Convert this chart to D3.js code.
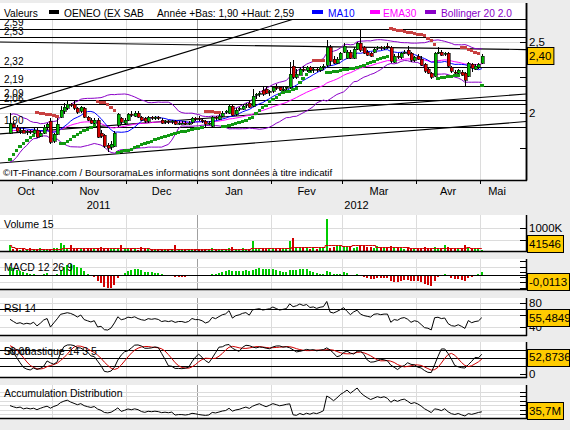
<!DOCTYPE html>
<html><head><meta charset="utf-8">
<script src="https://cdn.jsdelivr.net/npm/d3@7"></script>
<style>
html,body{margin:0;padding:0;background:#ececec;}
svg{display:block;font-family:"Liberation Sans",Arial,sans-serif;}
</style></head><body>
<svg id="c" width="570" height="430"></svg>
<script>
// ---------------- DATA ----------------
const preClose = [2.02,1.98,1.95,1.97,1.93,1.90,1.86,1.88,1.83,1.79,1.75,1.72,1.68,1.66,1.70,1.74,1.73,1.78,1.82,1.80,1.85,1.88,1.86,1.90,1.88,1.91,1.89,1.87,1.90,1.88];
const open  = [1.86,1.92,1.90,1.87,1.88,1.86,1.87,1.86,1.88,1.84,1.86,1.90,1.94,
 1.80,1.85,1.97,2.01,2.03,2.06,2.06,2.03,2.01,2.03,1.97,1.95,1.93,1.95,1.86,1.84,1.77,1.76,1.77,1.91,1.96,1.93,
 1.95,1.99,1.98,2.00,1.97,1.96,1.94,1.97,1.96,1.97,1.95,1.93,1.94,1.93,1.94,1.92,1.93,1.93,1.92,1.93,1.96,
 1.96,1.95,1.94,1.92,1.91,1.97,1.96,1.98,2.00,2.00,2.05,1.99,2.02,2.03,2.05,2.07,2.05,2.12,2.13,2.16,2.17,2.14,
 2.15,2.18,2.18,2.16,2.17,2.18,2.33,2.25,2.27,2.31,2.30,2.32,2.30,2.31,2.30,2.32,2.33,2.46,2.38,2.35,2.38,
 2.43,2.39,2.43,2.39,2.45,2.49,2.46,2.43,2.42,2.43,2.45,2.46,2.45,2.47,2.46,2.36,2.40,2.39,2.42,2.44,2.42,2.37,
 2.40,2.38,2.34,2.31,2.28,2.26,2.42,2.43,2.41,2.42,2.32,2.29,2.28,2.29,2.28,2.26,2.34,2.31,2.32,2.35];
const high  = [2.00,1.94,1.91,1.89,1.90,1.88,1.88,1.89,1.89,1.87,1.91,1.93,1.96,
 1.86,1.96,2.05,2.07,2.08,2.07,2.08,2.04,2.05,2.04,1.98,1.96,1.96,1.96,1.88,1.85,1.79,1.80,1.87,2.00,1.97,1.96,
 2.00,2.01,2.01,2.01,1.98,1.97,1.98,1.98,1.98,1.98,1.96,1.95,1.95,1.95,1.95,1.94,1.94,1.94,1.94,1.97,1.97,
 1.98,1.96,1.95,1.94,1.98,1.98,1.99,2.01,2.02,2.06,2.06,2.03,2.04,2.06,2.07,2.08,2.17,2.14,2.15,2.18,2.19,2.16,
 2.19,2.20,2.19,2.18,2.19,2.36,2.37,2.31,2.32,2.33,2.33,2.33,2.32,2.32,2.33,2.34,2.51,2.48,2.40,2.39,2.43,
 2.49,2.44,2.44,2.46,2.50,2.59,2.47,2.44,2.43,2.46,2.47,2.47,2.47,2.49,2.47,2.41,2.42,2.43,2.44,2.47,2.43,2.40,
 2.41,2.40,2.35,2.32,2.29,2.43,2.46,2.44,2.43,2.43,2.33,2.30,2.31,2.30,2.29,2.36,2.35,2.34,2.35,2.41];
const low   = [1.85,1.89,1.86,1.85,1.86,1.84,1.85,1.85,1.82,1.83,1.85,1.88,1.78,
 1.79,1.84,1.96,1.99,2.02,2.04,2.02,1.99,2.00,1.96,1.94,1.92,1.92,1.82,1.82,1.75,1.72,1.74,1.76,1.90,1.92,1.91,
 1.94,1.97,1.97,1.96,1.94,1.93,1.93,1.95,1.95,1.95,1.92,1.92,1.92,1.92,1.91,1.91,1.92,1.91,1.91,1.92,1.94,
 1.94,1.93,1.90,1.91,1.90,1.95,1.95,1.97,1.99,1.99,1.98,1.98,2.01,2.02,2.03,2.03,2.04,2.10,2.11,2.12,2.13,2.12,
 2.14,2.16,2.15,2.15,2.16,2.17,2.24,2.24,2.27,2.29,2.29,2.29,2.28,2.29,2.29,2.30,2.32,2.33,2.34,2.34,2.37,
 2.42,2.38,2.38,2.38,2.44,2.43,2.41,2.40,2.39,2.42,2.44,2.44,2.44,2.45,2.35,2.35,2.38,2.38,2.41,2.40,2.36,2.36,
 2.37,2.33,2.28,2.27,2.24,2.25,2.41,2.40,2.40,2.32,2.28,2.27,2.27,2.26,2.19,2.25,2.29,2.30,2.31,2.34];
const close = [1.93,1.90,1.87,1.88,1.86,1.87,1.86,1.88,1.83,1.86,1.90,1.92,1.79,
 1.85,1.92,2.02,2.04,2.06,2.05,2.03,2.00,2.04,1.97,1.95,1.93,1.95,1.83,1.84,1.76,1.75,1.78,1.86,1.99,1.93,1.95,
 1.99,1.98,2.00,1.97,1.95,1.94,1.97,1.96,1.97,1.96,1.93,1.94,1.93,1.94,1.92,1.93,1.93,1.92,1.93,1.96,1.95,
 1.95,1.94,1.92,1.93,1.97,1.96,1.98,2.00,2.01,2.05,1.99,2.02,2.03,2.05,2.06,2.04,2.12,2.13,2.14,2.13,2.14,2.15,
 2.18,2.17,2.16,2.17,2.18,2.27,2.25,2.27,2.31,2.30,2.32,2.30,2.31,2.30,2.32,2.33,2.46,2.36,2.35,2.38,2.42,
 2.47,2.43,2.39,2.45,2.49,2.44,2.42,2.41,2.40,2.45,2.46,2.45,2.46,2.46,2.36,2.40,2.39,2.42,2.43,2.41,2.37,2.39,
 2.38,2.34,2.29,2.28,2.25,2.42,2.43,2.41,2.42,2.33,2.29,2.28,2.30,2.27,2.23,2.35,2.31,2.33,2.34,2.40];
// volume in thousands of shares
const volume = [260,90,70,60,80,70,110,60,90,120,80,70,100,
 110,150,360,260,130,245,90,100,80,120,90,70,80,130,170,120,140,90,110,130,260,80,
 90,70,80,60,170,70,80,60,70,60,90,60,70,80,260,60,50,60,70,90,60,
 70,60,90,60,150,70,80,90,70,140,170,90,80,110,90,100,435,120,100,110,90,130,
 120,90,100,80,110,435,580,160,140,110,130,90,120,100,110,150,1390,150,180,200,230,
 220,160,210,150,180,230,200,190,170,120,200,130,120,140,210,150,120,110,100,130,150,90,
 120,130,170,140,150,190,120,110,260,170,140,110,90,120,260,130,100,80,90,41.546];
const monthStarts = [13,35,56,78,99,121,140];
const monthLabels = ["Oct","Nov","Dec","Jan","Fev","Mar","Avr","Mai"];
const yearLabels = ["2011","2012"];
const yearStartMonth = 2;
const levels = [2.59,2.53,2.32,2.19,2.09,2.06,1.90];
const trendLines = [[0,2.048,80,2.629],[0,2.497,140,2.449],[0,1.856,140,2.108],[0,1.651,140,1.913]];
const priceTicks = [2.5,2.25,2.0,1.75];
const priceTickLabels = ["2,5","","2",""];
const panelValues = ["-0,0113","55,4849","52,8736","35,7M"];
const sarInit = {sar:1.67, ep:2.00, af:0.10};

// ---------------- INDICATORS ----------------
const N = close.length, P = preClose.length;
const allC = preClose.concat(close);
const allH = preClose.concat(high), allL = preClose.concat(low);
function sma(a,k){return a.map((v,j)=> j<k-1? null : d3.mean(a.slice(j-k+1,j+1)));}
function ema(a,k){const al=2/(k+1); let e=null; return a.map(v=>{ if(v==null) return null; e = (e==null)? v : e+al*(v-e); return e;});}
const ma10 = sma(allC,10).slice(P);
const ema30 = ema(allC,30).slice(P);
const bbU=[], bbL=[];
allC.forEach((v,j)=>{ if(j<P) return; const w=allC.slice(j-19,j+1); const m=d3.mean(w); const sd=Math.sqrt(d3.mean(w,x=>(x-m)*(x-m))); bbU.push(m+2*sd); bbL.push(m-2*sd);});
const e12=ema(allC,12), e26=ema(allC,26);
const macdL=e12.map((v,j)=>v-e26[j]);
const sig=ema(macdL,9);
const macdH=macdL.map((v,j)=>v-sig[j]).slice(P);
const rsi=[]; {let ag=0,al=0; for(let j=1;j<allC.length;j++){const d=allC[j]-allC[j-1]; const g=Math.max(d,0), l=Math.max(-d,0);
  if(j<=14){ag+=g/14; al+=l/14;} else {ag=(ag*13+g)/14; al=(al*13+l)/14;}
  if(j>=P) rsi.push(al===0?100:100-100/(1+ag/al));}}
const rawK=allC.map((c,j)=>{ if(j<13) return null; const hh=d3.max(allH.slice(j-13,j+1)), ll=d3.min(allL.slice(j-13,j+1)); return hh===ll?50:(c-ll)/(hh-ll)*100;});
const slowK=rawK.map((v,j)=>{ const w=rawK.slice(Math.max(0,j-2),j+1).filter(x=>x!=null); return w.length?d3.mean(w):null;});
const stD=slowK.map((v,j)=>{ const w=slowK.slice(Math.max(0,j-4),j+1).filter(x=>x!=null); return w.length?d3.mean(w):null;});
const stK=slowK.slice(P), stDv=stD.slice(P);
const sarV=[], sarUp=[];
{let up=true, s=sarInit.sar, ep=sarInit.ep, af=sarInit.af;
 for(let i=0;i<N;i++){
   if(i>0){
     s = s + af*(ep-s);
     if(up){ s=Math.min(s, low[i-1], i>1?low[i-2]:low[i-1]); }
     else { s=Math.max(s, high[i-1], i>1?high[i-2]:high[i-1]); }
     if(up && low[i]<s){ up=false; s=ep; ep=low[i]; af=0.02; }
     else if(!up && high[i]>s){ up=true; s=ep; ep=high[i]; af=0.02; }
     else {
       if(up && high[i]>ep){ ep=high[i]; af=Math.min(0.2,af+0.02); }
       if(!up && low[i]<ep){ ep=low[i]; af=Math.min(0.2,af+0.02); }
     }
   }
   sarV.push(s); sarUp.push(up);
 }}
let adAcc=0; const adRaw=close.map((c,i)=>{ const r=high[i]-low[i]; adAcc += r>0? ((c-low[i])-(high[i]-c))/r*volume[i] : 0; return adAcc;});
const adEnd=35700; const ad=adRaw.map(v=>v-adRaw[N-1]+adEnd);
const vma15=volume.map((v,j)=>d3.mean(volume.slice(Math.max(0,j-14),j+1)));

// ---------------- DRAWING ----------------
const svg=d3.select("#c");
const PR=526;
const GREEN="#00b400", RED="#d00000", VGREEN="#00cc00", PURPLE="#8a00c8";
const x=d3.scaleLinear().domain([0,N-1]).range([10,481.8]);
const bounds=[-3].concat(monthStarts.map(s=>s-0.5)).concat([x.invert(PR)]);
const fmt2=v=>d3.format(".2f")(v).replace(".",",");

const panels={
  main:{top:3,bottom:180},
  vol:{top:215,bottom:251},
  macd:{top:259,bottom:289},
  rsi:{top:298,bottom:335},
  sto:{top:342,bottom:377},
  ad:{top:385,bottom:418}
};
const yP=d3.scaleLinear().domain([2,2.5]).range([112.7,41.7]);
const yV=d3.scaleLinear().domain([0,1000]).range([251,228]);
const mMax=d3.max(macdH,v=>Math.abs(v))*1.05;
const yM=d3.scaleLinear().domain([-mMax,mMax]).range([289,260]);
const yR=d3.scaleLinear().domain([40,80]).range([327,303]);
const yS=d3.scaleLinear().domain([0,100]).range([374,342]);
const yA=d3.scaleLinear().domain(d3.extent(ad)).range([416,388]);

const defs=svg.append("defs");
function clip(id,top,bottom){defs.append("clipPath").attr("id",id).append("rect").attr("x",0).attr("y",top).attr("width",PR).attr("height",bottom-top);}
function panelBase(p,id,clipTop){
  svg.append("rect").attr("x",0).attr("y",p.top).attr("width",PR).attr("height",p.bottom-p.top).attr("fill","#fff");
  clip(id,clipTop!=null?clipTop:p.top,p.bottom);
  const g=svg.append("g").attr("clip-path",`url(#${id})`);
  monthStarts.forEach((s,k)=>{
    g.append("line").attr("x1",Math.round(x(s-0.5))+0.5).attr("x2",Math.round(x(s-0.5))+0.5)
     .attr("y1",p.top).attr("y2",p.bottom).attr("stroke",k===yearStartMonth?"#a0a0a0":"#dcdcdc").attr("stroke-width",1);
  });
  return g;
}
function hline(g,y,color,w){g.append("line").attr("x1",0).attr("x2",PR).attr("y1",Math.round(y)+0.5).attr("y2",Math.round(y)+0.5).attr("stroke",color).attr("stroke-width",w||1).attr("shape-rendering","crispEdges");}
function frame(p){
  svg.append("line").attr("x1",PR+0.5).attr("x2",PR+0.5).attr("y1",p.top).attr("y2",p.bottom+1).attr("stroke","#000").attr("stroke-width",1.5);
  svg.append("line").attr("x1",0).attr("x2",PR+1).attr("y1",p.bottom+0.5).attr("y2",p.bottom+0.5).attr("stroke","#000").attr("stroke-width",1.5);
}
function rtick(y,label){
  svg.append("line").attr("x1",PR-6).attr("x2",PR).attr("y1",Math.round(y)+0.5).attr("y2",Math.round(y)+0.5).attr("stroke","#000");
  if(label) svg.append("text").attr("x",PR+3).attr("y",y).attr("dy","0.36em").attr("font-size",11.5).text(label);
}
function vbox(y,label,top,bottom){
  const h=17;
  const yc=Math.max(top+h/2,Math.min(bottom-h/2+1,y));
  const g=svg.append("g");
  const r=g.append("rect");
  const t=g.append("text").attr("x",PR+3).attr("y",yc).attr("dy","0.37em").attr("font-size",11.5).text(label);
  const w=t.node().getComputedTextLength()+4;
  r.attr("x",PR+1.5).attr("y",Math.round(yc-h/2)+0.5).attr("width",Math.min(w,568-PR)).attr("height",h).attr("fill","#ffcc00").attr("stroke","#000");
}
function plabel(txt,yb){svg.append("text").attr("x",4).attr("y",yb).attr("font-size",10.5).text(txt);}

// ===== MAIN PANEL =====
const pm=panels.main;
const gm=panelBase(pm,"cm",20);
[2.5,2.0].forEach(v=>hline(gm,yP(v),"#dcdcdc"));
levels.forEach(v=>hline(gm,yP(v),"#000"));
trendLines.forEach(t=>{
  const f=i=>t[1]+(t[3]-t[1])*(i-t[0])/(t[2]-t[0]);
  const i0=-3, i1=x.invert(PR);
  gm.append("line").attr("x1",x(i0)).attr("y1",yP(f(i0))).attr("x2",x(i1)).attr("y2",yP(f(i1))).attr("stroke","#000").attr("stroke-width",1.1);
});
const idx=d3.range(N);
const ln=(arr,ys)=>d3.line().defined(i=>arr[i]!=null).x(i=>x(i)).y(i=>ys(arr[i]));
gm.append("path").attr("d",ln(bbU,yP)(idx)).attr("fill","none").attr("stroke",PURPLE).attr("stroke-width",1);
gm.append("path").attr("d",ln(bbL,yP)(idx)).attr("fill","none").attr("stroke",PURPLE).attr("stroke-width",1);
gm.append("path").attr("d",ln(ema30,yP)(idx)).attr("fill","none").attr("stroke","#ff00ff").attr("stroke-width",1);
gm.append("path").attr("d",ln(ma10,yP)(idx)).attr("fill","none").attr("stroke","#0000ff").attr("stroke-width",1);
gm.selectAll("rect.sar").data(idx).enter().append("rect").attr("class","sar")
  .attr("x",i=>x(i)-1.7).attr("y",i=>yP(sarV[i])-1.5).attr("width",3.4).attr("height",3)
  .attr("fill",i=>sarUp[i]?"#119911":"#c84040").attr("shape-rendering","crispEdges");
const cg=gm.append("g");
idx.forEach(i=>{
  const up=close[i]>=open[i];
  cg.append("line").attr("x1",Math.round(x(i))+0.5).attr("x2",Math.round(x(i))+0.5).attr("y1",yP(high[i])).attr("y2",yP(low[i])).attr("stroke","#000").attr("shape-rendering","crispEdges");
  const yt=yP(Math.max(open[i],close[i])), yb=yP(Math.min(open[i],close[i]));
  cg.append("rect").attr("x",Math.round(x(i))-1).attr("y",Math.round(yt)).attr("width",3).attr("height",Math.max(1,Math.round(yb-yt)))
    .attr("fill",up?GREEN:RED).attr("stroke","#000").attr("stroke-width",0.6).attr("shape-rendering","crispEdges");
});
levels.forEach(v=>svg.append("text").attr("x",4).attr("y",yP(v)-2.5).attr("font-size",10).text(fmt2(v)));
svg.append("text").attr("x",3).attr("y",176).attr("font-size",9.7).text("\u00A9IT-Finance.com / BoursoramaLes informations sont données à titre indicatif");
// header
svg.append("rect").attr("x",0).attr("y",3).attr("width",PR).attr("height",16.5).attr("fill","#fff");
svg.append("line").attr("x1",0).attr("x2",PR).attr("y1",19.5).attr("y2",19.5).attr("stroke","#000").attr("stroke-width",1);
const lg=svg.append("g").attr("font-size",10.2);
lg.append("text").attr("x",4).attr("y",16.5).text("Valeurs");
lg.append("rect").attr("x",49).attr("y",10).attr("width",10).attr("height",4).attr("fill","#000");
lg.append("text").attr("x",64).attr("y",16.5).text("OENEO (EX SAB");
lg.append("text").attr("x",157).attr("y",16.5).text("Année +Bas: "+fmt2(d3.min(low.slice(56)))+" +Haut: "+fmt2(d3.max(high)));
lg.append("rect").attr("x",312).attr("y",10).attr("width",11).attr("height",4).attr("fill","#0000ff");
lg.append("text").attr("x",328).attr("y",16.5).attr("fill","#0000ff").text("MA10");
lg.append("rect").attr("x",370).attr("y",10).attr("width",10).attr("height",4).attr("fill","#ff00ff");
lg.append("text").attr("x",383).attr("y",16.5).attr("fill","#ff00ff").text("EMA30");
lg.append("rect").attr("x",425).attr("y",10).attr("width",11).attr("height",4).attr("fill",PURPLE);
lg.append("text").attr("x",441).attr("y",16.5).attr("fill",PURPLE).text("Bollinger 20 2.0");
frame(pm);
svg.append("line").attr("x1",PR+0.5).attr("x2",PR+0.5).attr("y1",3).attr("y2",180).attr("stroke","#000").attr("stroke-width",1.5);
priceTicks.forEach((v,k)=>rtick(yP(v),priceTickLabels[k]));
vbox(yP(close[N-1]),fmt2(close[N-1]),20,180);
monthStarts.forEach(s=>svg.append("line").attr("x1",Math.round(x(s-0.5))+0.5).attr("x2",Math.round(x(s-0.5))+0.5).attr("y1",180).attr("y2",184).attr("stroke","#000"));
monthLabels.forEach((m,k)=>{
  const a=Math.max(0,x(bounds[k])), b=Math.min(PR-12,x(bounds[k+1]));
  svg.append("text").attr("x",(a+b)/2).attr("y",195).attr("text-anchor","middle").attr("font-size",11).text(m);
});
{const yb=x(monthStarts[yearStartMonth]-0.5);
 svg.append("text").attr("x",yb/2).attr("y",209).attr("text-anchor","middle").attr("font-size",11).text(yearLabels[0]);
 svg.append("text").attr("x",(yb+PR)/2-5).attr("y",209).attr("text-anchor","middle").attr("font-size",11).text(yearLabels[1]);}

// ===== VOLUME =====
const pv=panels.vol, gv=panelBase(pv,"cv");
[500,1000].forEach(v=>hline(gv,yV(v),"#dcdcdc"));
idx.forEach(i=>gv.append("rect").attr("x",Math.round(x(i))-1).attr("y",yV(volume[i])).attr("width",2).attr("height",yV(0)-yV(volume[i]))
  .attr("fill",close[i]>=open[i]?VGREEN:RED).attr("shape-rendering","crispEdges"));
gv.append("path").attr("d",d3.line().x(i=>x(i)).y(i=>Math.round(yV(vma15[i]))+0.5).curve(d3.curveStep)(idx)).attr("fill","none").attr("stroke","#d00000").attr("stroke-width",1);
plabel("Volume 15",228);
frame(pv); rtick(yV(1000),"1000K"); rtick(yV(500),"");
vbox(yV(volume[N-1]),d3.format("d")(Math.round(volume[N-1]*1000)),pv.top,pv.bottom);

// ===== MACD =====
const pmc=panels.macd, gmc=panelBase(pmc,"cmc");
[0.55,-0.55].forEach(k=>hline(gmc,yM(k*mMax),"#dcdcdc"));
idx.forEach(i=>{const v=macdH[i]; gmc.append("rect").attr("x",Math.round(x(i))-1).attr("y",Math.min(yM(v),yM(0))).attr("width",2).attr("height",Math.abs(yM(v)-yM(0)))
  .attr("fill",v>=0?VGREEN:RED).attr("shape-rendering","crispEdges");});
hline(gmc,yM(0),"#000");
plabel("MACD 12 26 9",271);
frame(pmc); [0.9,0.55,0.2,-0.2,-0.55,-0.9].forEach(k=>rtick(yM(k*mMax),""));
vbox(pmc.bottom,panelValues[0],pmc.top,pmc.bottom);

// ===== RSI =====
const pr=panels.rsi, gr=panelBase(pr,"cr");
[80,60,40].forEach(v=>hline(gr,yR(v),"#dcdcdc"));
hline(gr,yR(70),"#000");
gr.append("path").attr("d",ln(rsi,yR)(idx)).attr("fill","none").attr("stroke","#000").attr("stroke-width",1);
plabel("RSI 14",312);
frame(pr); rtick(yR(80),"80"); rtick(yR(60),""); rtick(yR(40),"40");
vbox(yR(55.4849),panelValues[1],pr.top,pr.bottom);

// ===== STOCHASTIC =====
const ps=panels.sto, gs=panelBase(ps,"cs");
[75,50,25].forEach(v=>hline(gs,yS(v),"#000"));
gs.append("path").attr("d",ln(stDv,yS)(idx)).attr("fill","none").attr("stroke","#d00000").attr("stroke-width",1);
gs.append("path").attr("d",ln(stK,yS)(idx)).attr("fill","none").attr("stroke","#000").attr("stroke-width",1);
plabel("Stochastique 14 3 5",355);
plabel("50,00",355);
frame(ps); rtick(yS(0),"0");
vbox(yS(52.8736),panelValues[2],ps.top,ps.bottom);

// ===== A/D =====
const pa=panels.ad, ga=panelBase(pa,"ca");
yA.ticks(4).forEach(v=>hline(ga,yA(v),"#dcdcdc"));
ga.append("path").attr("d",ln(ad,yA)(idx)).attr("fill","none").attr("stroke","#000").attr("stroke-width",1);
plabel("Accumulation Distribution",397);
frame(pa); yA.ticks(4).forEach(v=>rtick(yA(v),""));
vbox(yA(ad[N-1]),panelValues[3],pa.top,pa.bottom);
</script></body></html>
